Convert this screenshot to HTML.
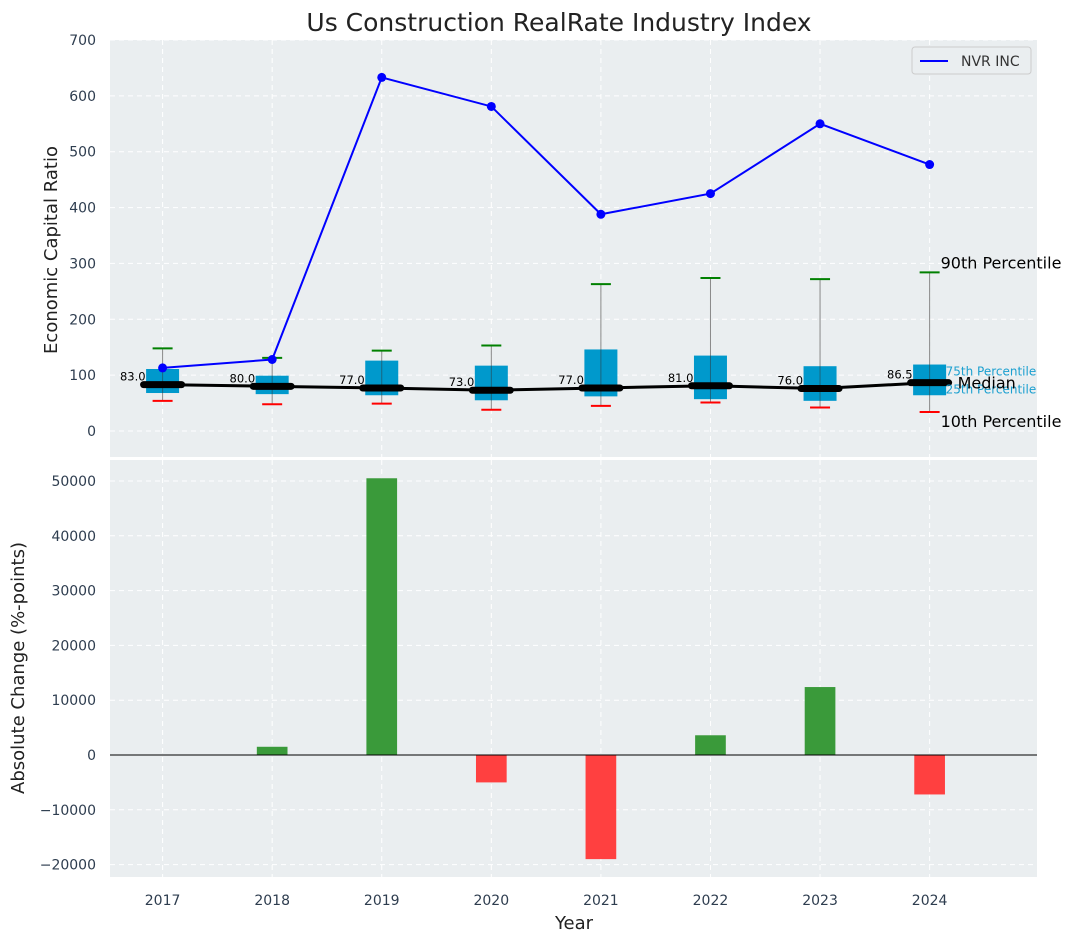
<!DOCTYPE html>
<html><head><meta charset="utf-8"><style>
body{margin:0;background:#fff;font-family:"Liberation Sans","DejaVu Sans",sans-serif}
svg text{font-family:"DejaVu Sans","Liberation Sans",sans-serif}
</style></head><body>
<svg id="c" width="1076" height="942" xmlns="http://www.w3.org/2000/svg"></svg>
<script>
const years=[2017,2018,2019,2020,2021,2022,2023,2024];
const nvr=[113,128,633,581,388,425,550,477];
const p10=[54,48,49,38,45,51,42,34];
const p25=[68,66,64,55,62,57,54,64];
const med=[83,80,77,73,77,81,76,86.5];
const p75=[111,99,126,117,146,135,116,119];
const p90=[148,131,144,153,263,274,272,284];
const changes=[0,1500,50500,-5000,-19000,3600,12400,-7200];
const topTicks=[0,100,200,300,400,500,600,700];
const botTicks=[-20000,-10000,0,10000,20000,30000,40000,50000];

const svg=document.getElementById('c');const NS='http://www.w3.org/2000/svg';
function el(t,a,txt,p){const e=document.createElementNS(NS,t);for(const k in a)e.setAttribute(k,a[k]);if(txt!=null)e.textContent=txt;(p||svg).appendChild(e);return e;}
const L=110,R=1037;
const x=v=>L+(v-2016.52)*(R-L)/(2024.98-2016.52);
const yT=v=>431-v*391/700;
const yB=v=>755-v*274/50000;
const T0=40,T1=457,B0=460,B1=877;
const tick='#2e3d4f';

let e;
e=el('rect',{x:L,y:T0,width:R-L,height:T1-T0,fill:'#eaeef0'});

e=el('rect',{x:L,y:B0,width:R-L,height:B1-B0,fill:'#eaeef0'});


years.forEach(yr=>{
  el('line',{x1:x(yr),x2:x(yr),y1:T0,y2:T1,stroke:'#fff','stroke-dasharray':'5,4','stroke-width':1});
  el('line',{x1:x(yr),x2:x(yr),y1:B0,y2:B1,stroke:'#fff','stroke-dasharray':'5,4','stroke-width':1});
  e=el('text',{x:x(yr),y:905,'font-size':14,fill:tick,'text-anchor':'middle'},yr);
  
});
topTicks.forEach(t=>{
  el('line',{x1:L,x2:R,y1:yT(t),y2:yT(t),stroke:'#fff','stroke-dasharray':'5,4'});
  e=el('text',{x:96,y:yT(t)+5,'font-size':14,fill:tick,'text-anchor':'end'},t);
  
});
botTicks.forEach(t=>{
  el('line',{x1:L,x2:R,y1:yB(t),y2:yB(t),stroke:'#fff','stroke-dasharray':'5,4'});
  e=el('text',{x:96,y:yB(t)+5,'font-size':14,fill:tick,'text-anchor':'end'},t<0?'\u2212'+(-t):t);
  
});

years.forEach((yr,i)=>{
  const cx=x(yr);
  e=el('line',{x1:cx,x2:cx,y1:yT(p90[i]),y2:yT(p10[i]),stroke:'#888','stroke-width':1});
  
  e=el('rect',{x:cx-16.5,y:yT(p75[i]),width:33,height:yT(p25[i])-yT(p75[i]),fill:'#0099cc'});
  
  el('line',{x1:cx,x2:cx,y1:yT(p75[i]),y2:yT(p25[i]),stroke:'#333','stroke-width':1,opacity:0.5});
  e=el('line',{x1:cx-10,x2:cx+10,y1:yT(p90[i]),y2:yT(p90[i]),stroke:'green','stroke-width':2});
  
  e=el('line',{x1:cx-10,x2:cx+10,y1:yT(p10[i]),y2:yT(p10[i]),stroke:'red','stroke-width':2});
  
});
e=el('polyline',{points:years.map((yr,i)=>x(yr)+','+yT(med[i])).join(' '),fill:'none',stroke:'#000','stroke-width':3});

years.forEach((yr,i)=>{
  const cx=x(yr);
  e=el('line',{x1:cx-19,x2:cx+19,y1:yT(med[i]),y2:yT(med[i]),stroke:'#000','stroke-width':7,'stroke-linecap':'round'});
  
  e=el('text',{x:cx-17,y:yT(med[i])-4,'font-size':11.5,fill:'#000','text-anchor':'end'},med[i].toFixed(1));
  
});
e=el('polyline',{points:years.map((yr,i)=>x(yr)+','+yT(nvr[i])).join(' '),fill:'none',stroke:'blue','stroke-width':2});

years.forEach((yr,i)=>{e=el('circle',{cx:x(yr),cy:yT(nvr[i]),r:4.5,fill:'blue'});
  });

const lx=x(2024)+11,li=years.length-1;
[['90th Percentile',lx,yT(p90[li])-4,16,'#000'],['10th Percentile',lx,yT(p10[li])+15,16,'#000'],['75th Percentile',lx+5,yT(p75[li])+11,12,'#1ca0d0'],['25th Percentile',lx+5,yT(p25[li])-2,12,'#1ca0d0']].forEach(a=>{
  e=el('text',{x:a[1],y:a[2],'font-size':a[3],fill:a[4]},a[0]);
  
});
e=el('text',{x:lx+17,y:yT(med[li])+6,'font-size':16,fill:'#000'},'Median');


e=el('g',{});
el('rect',{x:912,y:47,width:119,height:27,fill:'#eaeef0',stroke:'#ccc',rx:3},null,e);
el('line',{x1:920,x2:948,y1:61,y2:61,stroke:'blue','stroke-width':2},null,e);
el('text',{x:961,y:66,'font-size':14,fill:'#333'},'NVR INC',e);

const bw=x(2017.28)-x(2017);
years.forEach((yr,i)=>{
  const v=changes[i];
  e=el('rect',{x:x(yr)-bw/2,y:Math.min(yB(v),yB(0)),width:bw,height:Math.abs(yB(v)-yB(0)),fill:v>=0?'#3a9a3a':'#ff4040'});
  
});
el('line',{x1:L,x2:R,y1:yB(0),y2:yB(0),stroke:'#000','stroke-width':1});

e=el('text',{x:559,y:31,'font-size':25,fill:'#222','text-anchor':'middle'},'Us Construction RealRate Industry Index');

e=el('text',{x:0,y:0,'font-size':18,fill:'#222','text-anchor':'middle',transform:'translate(57,250) rotate(-90)'},'Economic Capital Ratio');

e=el('text',{x:0,y:0,'font-size':18,fill:'#222','text-anchor':'middle',transform:'translate(24,668) rotate(-90)'},'Absolute Change (%-points)');

e=el('text',{x:574,y:929,'font-size':18,fill:'#222','text-anchor':'middle'},'Year');

</script>
</body></html>
